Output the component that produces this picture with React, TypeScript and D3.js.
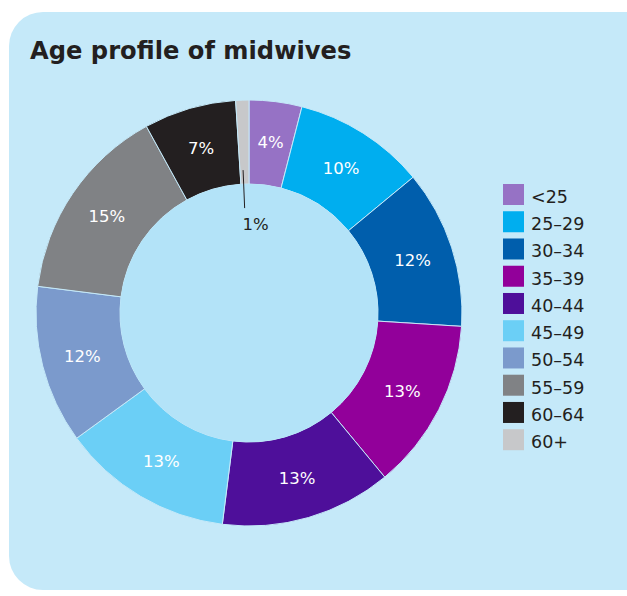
import * as d3 from 'd3';
import React, { useEffect, useRef } from 'react';

const ageGroups = ['<25', '25–29', '30–34', '35–39', '40–44', '45–49', '50–54', '55–59', '60–64', '60+'];
const shares = [4, 10, 12, 13, 13, 13, 12, 15, 7, 1];
const colors = ['#9672c5', '#00aeef', '#005eac', '#92009a', '#4e0f9a', '#6bcff6', '#7b9acc', '#808285', '#231f20', '#c7c8ca'];

interface ISlice {
  name: string;
  value: number;
}

export default function App() {
  const ref = useRef<HTMLDivElement>(null);

  useEffect(() => {
    const root = d3.select(ref.current);
    const width = 627;
    const height = 596;
    const cx = 249;
    const cy = 313;
    const outer = 213;
    const inner = 129;

    const data: ISlice[] = ageGroups.map((name, i) => ({ name, value: shares[i] }));

    const svg = root
      .append('svg')
      .attr('width', width)
      .attr('height', height)
      .style('position', 'absolute')
      .style('left', '0px')
      .style('top', '0px')
      .style('font-family', '"DejaVu Sans", sans-serif');

    // panel
    svg
      .append('rect')
      .attr('x', 9)
      .attr('y', 12)
      .attr('width', 650)
      .attr('height', 578)
      .attr('rx', 34)
      .attr('fill', '#c5e9f9');

    svg
      .append('text')
      .attr('x', 30)
      .attr('y', 59)
      .attr('font-size', 24.2)
      .attr('font-weight', 'bold')
      .attr('fill', '#231f20')
      .text('Age profile of midwives');

    const color = d3.scaleOrdinal<string, string>().domain(ageGroups).range(colors);

    const pie = d3
      .pie<ISlice>()
      .sort(null)
      .value((d) => d.value);

    const arc = d3.arc<d3.PieArcDatum<ISlice>>().innerRadius(inner).outerRadius(outer);
    const labelArc = d3.arc<d3.PieArcDatum<ISlice>>().innerRadius(172).outerRadius(172);

    const g = svg.append('g').attr('transform', `translate(${cx},${cy})`);
    const arcs = pie(data);

    g.selectAll('path')
      .data(arcs)
      .join('path')
      .attr('d', arc)
      .attr('fill', (d) => color(d.data.name))
      .attr('stroke', '#c5e9f9')
      .attr('stroke-width', 1);

    g.append('circle').attr('r', inner).attr('fill', '#b3e3f8');

    g.selectAll('text.lbl')
      .data(arcs.filter((d) => d.data.value > 1))
      .join('text')
      .attr('class', 'lbl')
      .attr('transform', (d) => `translate(${labelArc.centroid(d)})`)
      .attr('text-anchor', 'middle')
      .attr('dy', '0.35em')
      .attr('font-size', 16.5)
      .attr('fill', '#ffffff')
      .text((d) => `${d.data.value}%`);

    // small slice with leader line
    arcs
      .filter((d) => d.data.value <= 1)
      .forEach((d) => {
        const a = (d.startAngle + d.endAngle) / 2 - 0.01;
        const p = (r: number) => [r * Math.sin(a), -r * Math.cos(a)];
        const [x1, y1] = p(143);
        const [x2, y2] = p(105);
        g.append('line')
          .attr('x1', x1)
          .attr('y1', y1)
          .attr('x2', x2)
          .attr('y2', y2)
          .attr('stroke', '#231f20')
          .attr('stroke-width', 1);
        g.append('text')
          .attr('x', x2 + 11)
          .attr('y', y2 + 22)
          .attr('text-anchor', 'middle')
          .attr('font-size', 16.5)
          .attr('fill', '#231f20')
          .text(`${d.data.value}%`);
      });

    // legend
    const legendY = d3.scaleBand<string>().domain(ageGroups).range([184, 451]).paddingInner(0.2);
    const legend = svg
      .append('g')
      .selectAll('g')
      .data(ageGroups)
      .join('g')
      .attr('transform', (d) => `translate(503,${legendY(d)})`);

    legend
      .append('rect')
      .attr('width', 21)
      .attr('height', 21)
      .attr('fill', (d) => color(d));

    legend
      .append('text')
      .attr('x', 28)
      .attr('y', 19)
      .attr('font-size', 17.5)
      .attr('fill', '#231f20')
      .text((d) => d);

    return () => {
      root.select('svg').remove();
    };
  }, []);

  return <div ref={ref} />;
}
